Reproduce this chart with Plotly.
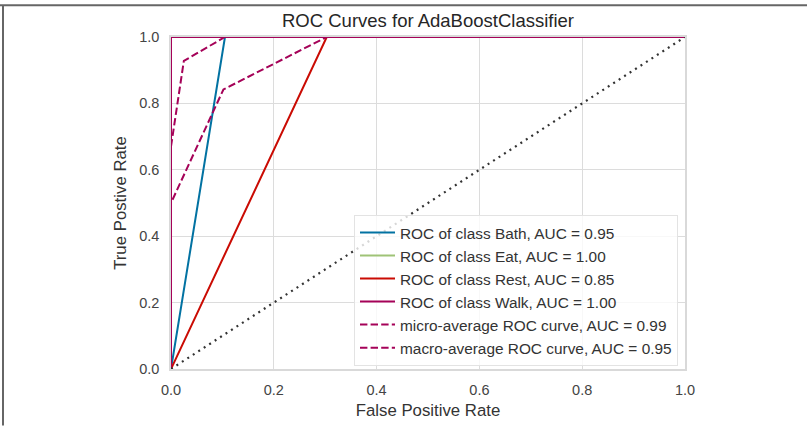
import plotly.graph_objects as go

# ---- data ----
bath_fpr = [0.0, 0.105, 1.0]
bath_tpr = [0.0, 1.0, 1.0]
eat_fpr = [0.0, 0.0, 1.0]
eat_tpr = [0.0, 1.0, 1.0]
rest_fpr = [0.0, 0.303, 1.0]
rest_tpr = [0.0, 1.0, 1.0]
walk_fpr = [0.0, 0.0, 1.0]
walk_tpr = [0.0, 1.0, 1.0]
micro_fpr = [0.0, 0.0, 0.025, 0.105, 1.0]
micro_tpr = [0.0, 0.67, 0.928, 1.0, 1.0]
macro_fpr = [0.0, 0.0, 0.102, 0.303, 1.0]
macro_tpr = [0.0, 0.5, 0.842, 1.0, 1.0]
diag = [0.0, 1.0]

names = [
    "ROC of class Bath, AUC = 0.95",
    "ROC of class Eat, AUC = 1.00",
    "ROC of class Rest, AUC = 0.85",
    "ROC of class Walk, AUC = 1.00",
    "micro-average ROC curve, AUC = 0.99",
    "macro-average ROC curve, AUC = 0.95",
]
x_ticks = [0.0, 0.2, 0.4, 0.6, 0.8, 1.0]

# ---- style ----
W, H = 807, 429
ML, MR, MT, MB = 171, 122, 37, 57
FONT = "Liberation Sans, Arial, sans-serif"
C_BLUE, C_GREEN, C_RED, C_PURP = "#0272a2", "#9fc377", "#ca0b03", "#a50258"
DASH = "7.4px,3.2px"

fig = go.Figure()
series = [
    (bath_fpr, bath_tpr, C_BLUE, "solid"),
    (eat_fpr, eat_tpr, C_GREEN, "solid"),
    (rest_fpr, rest_tpr, C_RED, "solid"),
    (walk_fpr, walk_tpr, C_PURP, "solid"),
    (micro_fpr, micro_tpr, C_PURP, DASH),
    (macro_fpr, macro_tpr, C_PURP, DASH),
]
for (xs, ys, col, dash), nm in zip(series, names):
    fig.add_trace(go.Scatter(x=xs, y=ys, mode="lines", name=nm,
                             line=dict(color=col, width=2, dash=dash)))
fig.add_trace(go.Scatter(x=diag, y=diag, mode="lines", showlegend=False,
                         line=dict(color="#333333", width=2.2, dash="2px,4.5px")))

pw = W - ML - MR
ph = H - MT - MB
def px_x(p):
    return (p - ML) / pw
def px_y(p):
    return (H - MB - p) / ph

frame = "#666666"
fig.add_shape(type="line", xref="paper", yref="paper",
              x0=px_x(0), x1=px_x(W), y0=px_y(5), y1=px_y(5),
              line=dict(color=frame, width=2))
fig.add_shape(type="line", xref="paper", yref="paper",
              x0=px_x(3), x1=px_x(3), y0=px_y(5), y1=px_y(H),
              line=dict(color=frame, width=2))

axis_common = dict(range=[0, 1], showgrid=True, gridcolor="#dcdcdc", gridwidth=1,
                   zeroline=False, showline=True, linecolor="#d9d9d9", linewidth=1.5,
                   mirror=True, ticks="", tickfont=dict(family=FONT, size=14.5, color="#444444"),
                   tickvals=x_ticks, tickformat=".1f", ticklabelstandoff=7)
fig.update_xaxes(**axis_common,
                 title=dict(text="False Positive Rate", standoff=7,
                            font=dict(family=FONT, size=16.8, color="#333333")))
fig.update_yaxes(**axis_common,
                 title=dict(text="True Postive Rate", standoff=8,
                            font=dict(family=FONT, size=16.8, color="#333333")))

fig.update_layout(
    width=W, height=H,
    margin=dict(l=ML, r=MR, t=MT, b=MB),
    paper_bgcolor="white", plot_bgcolor="white",
    title=dict(text="ROC Curves for AdaBoostClassifier", x=0.5, xref="paper",
               y=1 - 21 / H, yanchor="middle",
               font=dict(family=FONT, size=18.5, color="#262626")),
    legend=dict(x=px_x(678), y=px_y(369), xanchor="right", yanchor="bottom",
                itemwidth=35,
                bgcolor="rgba(255,255,255,0.8)", bordercolor="#e3e3e3", borderwidth=1,
                font=dict(family=FONT, size=15.4, color="#333333")),
    showlegend=True,
)

fig.write_html("out.html")
